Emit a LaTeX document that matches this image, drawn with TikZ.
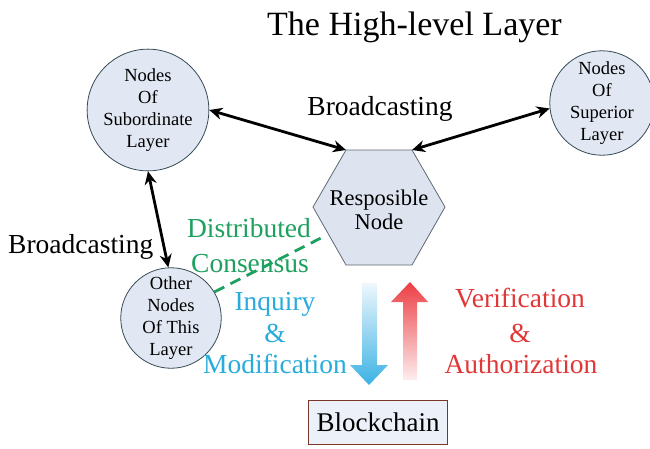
\documentclass[tikz,border=0pt]{standalone}
\usepackage{fontspec}
\setmainfont{Liberation Serif}
\usetikzlibrary{arrows.meta}
\definecolor{circfill}{RGB}{226,232,243}
\definecolor{circline}{RGB}{55,75,85}
\definecolor{hexfill}{RGB}{221,228,240}
\definecolor{hexline}{RGB}{95,105,115}
\definecolor{bcfill}{RGB}{236,240,248}
\definecolor{bcline}{RGB}{120,55,40}
\definecolor{tgreen}{RGB}{30,160,95}
\definecolor{tblue}{RGB}{40,172,220}
\definecolor{tred}{RGB}{225,55,55}
\definecolor{ablue}{RGB}{60,178,228}
\definecolor{ablueL}{RGB}{238,247,253}
\definecolor{ared}{RGB}{236,62,68}
\definecolor{aredL}{RGB}{253,238,238}
\tikzset{
  layernode/.style={circle, draw=circline, fill=circfill, line width=0.8pt, inner sep=0pt,
    align=center, font=\fontsize{18.5}{22}\selectfont},
  lbl/.style={anchor=base, inner sep=0pt, font=\fontsize{27.5}{30}\selectfont},
  bcast/.style={line width=2.8pt, {Stealth[length=13pt,width=12pt]}-{Stealth[length=13pt,width=12pt]}},
}
\begin{document}
\begin{tikzpicture}[x=1pt,y=-1pt]
\useasboundingbox[fill=white] (0,0) rectangle (650,448);
% title
\node[anchor=base west, inner sep=0pt, font=\fontsize{34}{36}\selectfont] (title) at (267,35) {The High-level Layer};
% circles
\node[layernode, minimum size=120pt] (sub) at (148,110) {Nodes\\Of\\Subordinate\\Layer};
\node[layernode, minimum size=96pt] (sup) at (602,103) {Nodes\\Of\\Superior\\Layer};
\node[layernode, minimum size=96pt] (oth) at (171,318) {Other\\Nodes\\Of This\\Layer};
% hexagon
\coordinate (hexL) at (313,207);
\coordinate (hexTL) at (346,150);
\coordinate (hexTR) at (412,150);
\coordinate (hexR) at (445,207);
\coordinate (hexBR) at (412,265);
\coordinate (hexBL) at (346,265);
\coordinate (hexG) at (323,237);
\draw[draw=hexline, fill=hexfill, line width=0.8pt] (hexL) -- (hexTL) -- (hexTR) -- (hexR) -- (hexBR) -- (hexBL) -- cycle;
\node[align=center, inner sep=0pt, font=\fontsize{22.5}{24}\selectfont] (hex) at (379,210) {Resposible\\Node};
% blockchain
\node[draw=bcline, fill=bcfill, line width=0.8pt, minimum width=139pt, minimum height=44pt, inner sep=0pt,
  font=\fontsize{27}{30}\selectfont] (bc) at (378,422) {Blockchain};
% broadcasting arrows
\draw[bcast] (sub.east) -- (hexTL);
\draw[bcast] (sup.186) -- (hexTR);
\draw[bcast] (sub.south) -- (oth.93);
% distributed consensus dashed
\draw[tgreen, line width=2.8pt, dash pattern=on 11pt off 7pt] (oth.31) -- (hexG);
% labels
\node[lbl] (bc1) at (380,115) {Broadcasting};
\node[lbl, anchor=base west] (bc2) at (8,253) {Broadcasting};
\node[lbl, text=tgreen] (dist1) at (249,237) {Distributed};
\node[lbl, text=tgreen] (dist2) at (250,272) {Consensus};
\node[lbl, text=tblue] (inq1) at (275,310) {Inquiry};
\node[lbl, text=tblue] (inq2) at (275,342) {\&};
\node[lbl, text=tblue] (inq3) at (275,373) {Modification};
\node[lbl, text=tred] (ver1) at (520,307) {Verification};
\node[lbl, text=tred] (ver2) at (520,342) {\&};
\node[lbl, text=tred] (ver3) at (521,373) {Authorization};
% big gradient arrows
\shade[top color=ablueL, bottom color=ablue] (362,283) -- (377,283) -- (377,365) -- (388,365) -- (369,385) -- (350,365) -- (362,365) -- cycle;
\shade[top color=ared, bottom color=aredL] (403,380) -- (417,380) -- (417,302) -- (428,302) -- (410,282) -- (391,302) -- (403,302) -- cycle;
\end{tikzpicture}
\end{document}
